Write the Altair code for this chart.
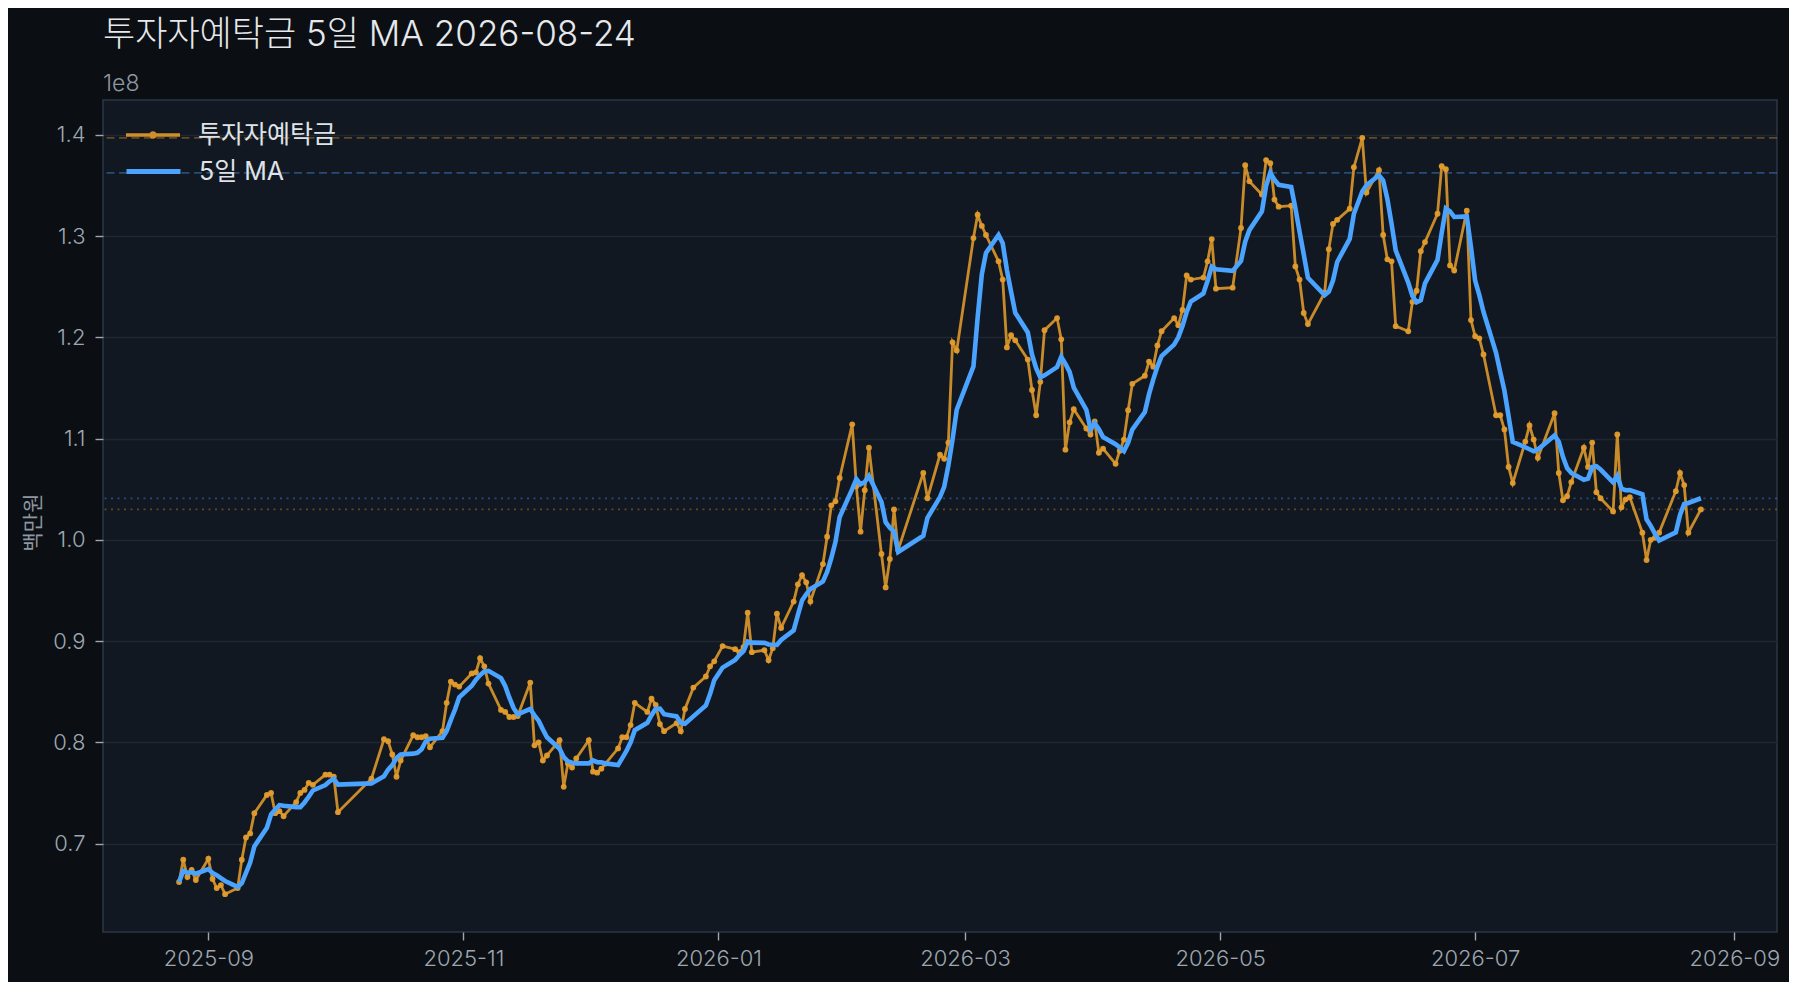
import altair as alt
import pandas as pd

# 투자자예탁금 (단위: 1e8 백만원)
dates = [
    "2025-08-25", "2025-08-26", "2025-08-27", "2025-08-28", "2025-08-29",
    "2025-09-01", "2025-09-02", "2025-09-03", "2025-09-04", "2025-09-05",
    "2025-09-08", "2025-09-09", "2025-09-10", "2025-09-11", "2025-09-12",
    "2025-09-15", "2025-09-16", "2025-09-17", "2025-09-18", "2025-09-19",
    "2025-09-22", "2025-09-23", "2025-09-24", "2025-09-25", "2025-09-26",
    "2025-09-29", "2025-09-30", "2025-10-01", "2025-10-02", "2025-10-10",
    "2025-10-13", "2025-10-14", "2025-10-15", "2025-10-16", "2025-10-17",
    "2025-10-20", "2025-10-21", "2025-10-22", "2025-10-23", "2025-10-24",
    "2025-10-27", "2025-10-28", "2025-10-29", "2025-10-30", "2025-10-31",
    "2025-11-03", "2025-11-04", "2025-11-05", "2025-11-06", "2025-11-07",
    "2025-11-10", "2025-11-11", "2025-11-12", "2025-11-13", "2025-11-14",
    "2025-11-17", "2025-11-18", "2025-11-19", "2025-11-20", "2025-11-21",
    "2025-11-24", "2025-11-25", "2025-11-26", "2025-11-27", "2025-11-28",
    "2025-12-01", "2025-12-02", "2025-12-03", "2025-12-04", "2025-12-05",
    "2025-12-08", "2025-12-09", "2025-12-10", "2025-12-11", "2025-12-12",
    "2025-12-15", "2025-12-16", "2025-12-17", "2025-12-18", "2025-12-19",
    "2025-12-22", "2025-12-23", "2025-12-24", "2025-12-26",
    "2025-12-29", "2025-12-30", "2025-12-31", "2026-01-02",
    "2026-01-05", "2026-01-06", "2026-01-07", "2026-01-08", "2026-01-09",
    "2026-01-12", "2026-01-13", "2026-01-14", "2026-01-15", "2026-01-16",
    "2026-01-19", "2026-01-20", "2026-01-21", "2026-01-22", "2026-01-23",
    "2026-01-26", "2026-01-27", "2026-01-28", "2026-01-29", "2026-01-30",
    "2026-02-02", "2026-02-03", "2026-02-04", "2026-02-05", "2026-02-06",
    "2026-02-09", "2026-02-10", "2026-02-11", "2026-02-12", "2026-02-13",
    "2026-02-19", "2026-02-20",
    "2026-02-23", "2026-02-24", "2026-02-25", "2026-02-26", "2026-02-27",
    "2026-03-03", "2026-03-04", "2026-03-05", "2026-03-06",
    "2026-03-09", "2026-03-10", "2026-03-11", "2026-03-12", "2026-03-13",
    "2026-03-16", "2026-03-17", "2026-03-18", "2026-03-19", "2026-03-20",
    "2026-03-23", "2026-03-24", "2026-03-25", "2026-03-26", "2026-03-27",
    "2026-03-30", "2026-03-31", "2026-04-01", "2026-04-02", "2026-04-03",
    "2026-04-06", "2026-04-07", "2026-04-08", "2026-04-09", "2026-04-10",
    "2026-04-13", "2026-04-14", "2026-04-15", "2026-04-16", "2026-04-17",
    "2026-04-20", "2026-04-21", "2026-04-22", "2026-04-23", "2026-04-24",
    "2026-04-27", "2026-04-28", "2026-04-29", "2026-04-30",
    "2026-05-04", "2026-05-06", "2026-05-07", "2026-05-08",
    "2026-05-11", "2026-05-12", "2026-05-13", "2026-05-14", "2026-05-15",
    "2026-05-18", "2026-05-19", "2026-05-20", "2026-05-21", "2026-05-22",
    "2026-05-26", "2026-05-27", "2026-05-28", "2026-05-29",
    "2026-06-01", "2026-06-02", "2026-06-04", "2026-06-05",
    "2026-06-08", "2026-06-09", "2026-06-10", "2026-06-11", "2026-06-12",
    "2026-06-15", "2026-06-16", "2026-06-17", "2026-06-18", "2026-06-19",
    "2026-06-22", "2026-06-23", "2026-06-24", "2026-06-25", "2026-06-26",
    "2026-06-29", "2026-06-30", "2026-07-01", "2026-07-02", "2026-07-03",
    "2026-07-06", "2026-07-07", "2026-07-08", "2026-07-09", "2026-07-10",
    "2026-07-13", "2026-07-14", "2026-07-15", "2026-07-16",
    "2026-07-20", "2026-07-21", "2026-07-22", "2026-07-23", "2026-07-24",
    "2026-07-27", "2026-07-28", "2026-07-29", "2026-07-30", "2026-07-31",
    "2026-08-03", "2026-08-04", "2026-08-05", "2026-08-06", "2026-08-07",
    "2026-08-10", "2026-08-11", "2026-08-12", "2026-08-13", "2026-08-14",
    "2026-08-18", "2026-08-19", "2026-08-20", "2026-08-21", "2026-08-24",
]

values = [
    0.662, 0.684, 0.667, 0.674, 0.664,
    0.685, 0.665, 0.656, 0.659, 0.650,
    0.656, 0.684, 0.706, 0.710, 0.730,
    0.748, 0.750, 0.730, 0.732, 0.727,
    0.741, 0.750, 0.753, 0.760, 0.758,
    0.768, 0.768, 0.766, 0.731, 0.764,
    0.803, 0.801, 0.788, 0.766, 0.782,
    0.807, 0.805, 0.805, 0.806, 0.795,
    0.811, 0.839, 0.860, 0.857, 0.855,
    0.868, 0.869, 0.883, 0.875, 0.858,
    0.832, 0.830, 0.825, 0.825, 0.826,
    0.859, 0.797, 0.800, 0.782, 0.787,
    0.802, 0.756, 0.779, 0.775, 0.784,
    0.802, 0.771, 0.770, 0.774, 0.779,
    0.794, 0.805, 0.805, 0.817, 0.839,
    0.830, 0.843, 0.837, 0.818, 0.811,
    0.819, 0.811, 0.833, 0.854,
    0.865, 0.875, 0.880, 0.895,
    0.892, 0.889, 0.894, 0.928, 0.889,
    0.891, 0.881, 0.893, 0.927, 0.913,
    0.939, 0.956, 0.965, 0.958, 0.939,
    0.976, 1.003, 1.034, 1.038, 1.061,
    1.114, 1.053, 1.008, 1.049, 1.091,
    0.986, 0.953, 0.981, 1.030, 0.990,
    1.066, 1.041,
    1.084, 1.080, 1.096, 1.195, 1.187,
    1.298, 1.321, 1.310, 1.301,
    1.275, 1.257, 1.190, 1.202, 1.197,
    1.178, 1.148, 1.123, 1.156, 1.207,
    1.219, 1.198, 1.089, 1.116, 1.129,
    1.110, 1.104, 1.117, 1.086, 1.090,
    1.075, 1.088, 1.099, 1.128, 1.154,
    1.162, 1.176, 1.171, 1.192, 1.206,
    1.219, 1.212, 1.227, 1.261, 1.257,
    1.259, 1.275, 1.297, 1.248,
    1.249, 1.308, 1.370, 1.354,
    1.341, 1.375, 1.372, 1.336, 1.329,
    1.330, 1.270, 1.257, 1.224, 1.213,
    1.244, 1.287, 1.312, 1.316,
    1.327, 1.368, 1.397, 1.343,
    1.365, 1.301, 1.277, 1.275, 1.211,
    1.206, 1.235, 1.246, 1.285, 1.294,
    1.322, 1.369, 1.366, 1.271, 1.266,
    1.325, 1.217, 1.201, 1.199, 1.183,
    1.123, 1.123, 1.109, 1.072, 1.056,
    1.097, 1.113, 1.099, 1.081,
    1.125, 1.066, 1.039, 1.043, 1.057,
    1.091, 1.072, 1.096, 1.047, 1.041,
    1.028, 1.104, 1.032, 1.040, 1.042,
    1.007, 0.980, 1.000, 1.002, 1.007,
    1.048, 1.066, 1.054, 1.007, 1.030,
]

x_ticks = ["2025-09-01", "2025-11-01", "2026-01-01", "2026-03-01",
           "2026-05-01", "2026-07-01", "2026-09-01"]
y_ticks = [0.7, 0.8, 0.9, 1.0, 1.1, 1.2, 1.3, 1.4]

SERIES_NAME = "투자자예탁금"
MA_NAME = "5일 MA"
TITLE = "투자자예탁금 5일 MA 2026-08-24"
Y_TITLE = "백만원"
OFFSET_TEXT = "1e8"

ORANGE = "#e39c2c"
BLUE = "#4aa3ff"
FONT = "Inter, Noto Sans CJK KR, sans-serif"
PAGE_BG = "#0b0f14"

PLOT_W = 1674
PLOT_H = 832

df = pd.DataFrame({"date": dates, "value": values})
df["ma"] = df["value"].rolling(5, min_periods=1).mean()


def to_ms(ts):
    return int(pd.Timestamp(ts).tz_localize("UTC").value // 10**6)


d = pd.to_datetime(df["date"])
span = d.max() - d.min()
x_domain = [to_ms(d.min() - span * 0.05), to_ms(d.max() + span * 0.05)]
lo = min(df["value"].min(), df["ma"].min())
hi = max(df["value"].max(), df["ma"].max())
pad = (hi - lo) * 0.05
y_domain = [lo - pad, hi + pad]

ref_df = pd.DataFrame({
    "y": [df["value"].max(), df["ma"].max(), df["value"].iloc[-1], df["ma"].iloc[-1]],
    "kind": ["max_val", "max_ma", "last_val", "last_ma"],
})

x_enc = alt.X(
    "date:T",
    scale=alt.Scale(type="utc", domain=x_domain),
    axis=alt.Axis(
        values=[to_ms(t) for t in x_ticks],
        labelExpr="utcFormat(datum.value, '%Y-%m')",
        grid=False, title=None,
    ),
)
y_scale = alt.Scale(domain=y_domain, nice=False, zero=False)


def y_axis():
    return alt.Axis(values=y_ticks, format=".1f", grid=True, title=Y_TITLE,
                    titleY=PLOT_H / 2 + 6)


base = alt.Chart(df)


def ref_rule(kind, color, dash):
    return alt.Chart(ref_df).transform_filter(
        alt.datum.kind == kind
    ).mark_rule(color=color, strokeWidth=1.8, strokeDash=dash, opacity=0.38).encode(
        y=alt.Y("y:Q", scale=y_scale, axis=y_axis())
    )


rules = [
    ref_rule("max_val", ORANGE, [8, 4.5]),
    ref_rule("max_ma", BLUE, [8, 4.5]),
    ref_rule("last_val", ORANGE, [2, 4.5]),
    ref_rule("last_ma", BLUE, [2, 4.5]),
]

DOT_LINE = "M-1,0L1,0M-0.08,0A0.08,0.08,0,1,0,0.08,0A0.08,0.08,0,1,0,-0.08,0Z"

LEGEND_COMMON = dict(
    title=None, orient="none", padding=0,
    labelFontSize=25, labelColor="#dfe3e8", labelFont=FONT, labelOffset=16,
)

series_layer = base.transform_calculate(series=f"'{SERIES_NAME}'").mark_line(
    strokeWidth=2.8, opacity=0.87,
    point=alt.OverlayMarkDef(filled=True, size=34, opacity=0.95),
).encode(
    x=x_enc,
    y=alt.Y("value:Q", scale=y_scale, axis=y_axis()),
    color=alt.Color(
        "series:N",
        scale=alt.Scale(domain=[SERIES_NAME], range=[ORANGE]),
        legend=alt.Legend(
            legendX=21, legendY=6,
            symbolType=DOT_LINE, symbolSize=2916, symbolStrokeWidth=3.3,
            symbolFillColor=ORANGE, symbolStrokeColor=ORANGE, symbolOpacity=0.9,
            **LEGEND_COMMON,
        ),
    ),
)

ma_layer = base.transform_calculate(series=f"'{MA_NAME}'").mark_line(
    strokeWidth=4.6,
).encode(
    x=x_enc,
    y=alt.Y("ma:Q", scale=y_scale, axis=y_axis()),
    color=alt.Color(
        "series:N",
        scale=alt.Scale(domain=[MA_NAME], range=[BLUE]),
        legend=alt.Legend(
            legendX=21, legendY=42,
            symbolType="stroke", symbolSize=2916, symbolStrokeWidth=5,
            **LEGEND_COMMON,
        ),
    ),
)

chart = alt.layer(*rules, series_layer, ma_layer).resolve_scale(
    color="independent"
).properties(
    width=PLOT_W,
    height=PLOT_H,
    autosize=alt.AutoSizeParams(type="none"),
    padding={"left": 95, "top": 92, "right": 12, "bottom": 50},
    background=PAGE_BG,
    title=alt.TitleParams(
        text=TITLE,
        subtitle=OFFSET_TEXT,
        anchor="start",
        frame="group",
        font=FONT,
        fontSize=35,
        fontWeight=300,
        color="#e6e8eb",
        subtitleFont=FONT,
        subtitleFontSize=23,
        subtitleFontWeight=300,
        subtitleColor="#8e97a2",
        subtitlePadding=20,
        offset=4,
    ),
).configure_view(
    fill="#121822",
    stroke="#2b3646",
    strokeWidth=1.5,
).configure_axis(
    labelFont=FONT,
    labelFontSize=22,
    labelFontWeight=300,
    labelColor="#9ea7b1",
    tickColor="#9ea7b1",
    tickSize=8,
    tickWidth=1.4,
    domain=False,
    gridColor="#1f2733",
    gridWidth=1.5,
    titleFont=FONT,
    titleFontSize=21,
    titleFontWeight="normal",
    titleColor="#8e97a2",
).configure_axisY(
    labelPadding=10,
    titlePadding=9,
).configure_axisX(
    labelPadding=8,
)

chart.save("out.html", embed_options={"renderer": "svg", "actions": False})
